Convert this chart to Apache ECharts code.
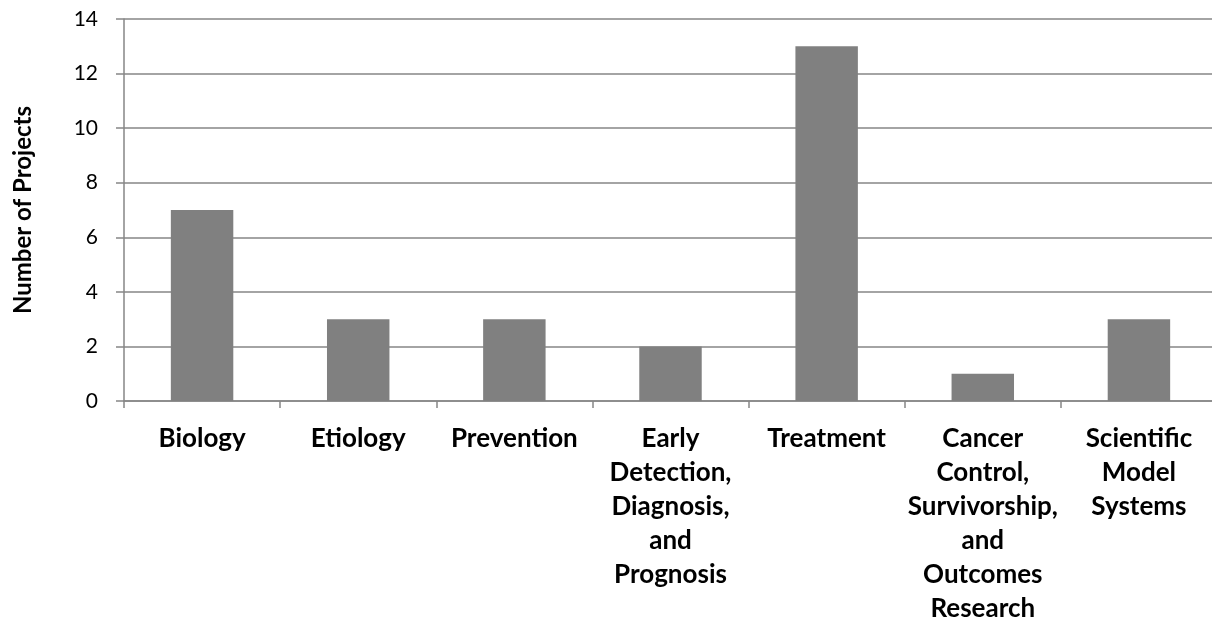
<!DOCTYPE html>
<html>
<head>
<meta charset="utf-8">
<script src="https://cdn.jsdelivr.net/npm/echarts@6/dist/echarts.min.js"></script>
<style>
  html, body { margin: 0; padding: 0; background: #fff; }
  #chart { width: 1212px; height: 620px; }
</style>
</head>
<body>
<div id="chart"></div>
<script>
// Research categories (line breaks follow the wrapped axis labels)
const categories = [
  'Biology',
  'Etiology',
  'Prevention',
  'Early\nDetection,\nDiagnosis,\nand\nPrognosis',
  'Treatment',
  'Cancer\nControl,\nSurvivorship,\nand\nOutcomes\nResearch',
  'Scientific\nModel\nSystems'
];
// Number of projects per category
const projectCounts = [7, 3, 3, 2, 13, 1, 3];
// Value axis range
const yMin = 0;
const yMax = 14;
const yStep = 2;

const chart = echarts.init(document.getElementById('chart'), null, { renderer: 'canvas' });
const font = 'Lato, "Open Sans", sans-serif';
const axisGray = '#868686';

chart.setOption({
  animation: false,
  grid: {
    left: 124, top: 19, width: 1093, height: 382,
    containLabel: false,
    outerBoundsMode: 'none'
  },
  xAxis: {
    type: 'category',
    data: categories,
    axisLine: { lineStyle: { color: axisGray, width: 1.5 } },
    axisTick: { show: true, length: 7, alignWithLabel: false, lineStyle: { color: axisGray, width: 1.5 } },
    axisLabel: {
      interval: 0,
      margin: 21,
      color: '#000',
      fontFamily: font,
      fontWeight: 'bold',
      fontSize: 26,
      lineHeight: 34,
      align: 'center'
    }
  },
  yAxis: {
    type: 'value',
    min: yMin,
    max: yMax,
    interval: yStep,
    name: 'Number of Projects',
    nameLocation: 'middle',
    nameGap: 89,
    nameRotate: 90,
    nameTextStyle: { color: '#000', fontFamily: font, fontWeight: 'bold', fontSize: 24 },
    axisLine: { show: true, lineStyle: { color: axisGray, width: 1.5 } },
    axisTick: { show: true, length: 8, inside: false, lineStyle: { color: axisGray, width: 1.5 } },
    splitLine: { show: true, lineStyle: { color: axisGray, width: 1.5 } },
    axisLabel: { margin: 26, color: '#000', fontFamily: font, fontSize: 21 }
  },
  series: [{
    type: 'bar',
    data: projectCounts,
    barWidth: '40%',
    itemStyle: { color: '#808080' }
  }]
});
</script>
</body>
</html>
